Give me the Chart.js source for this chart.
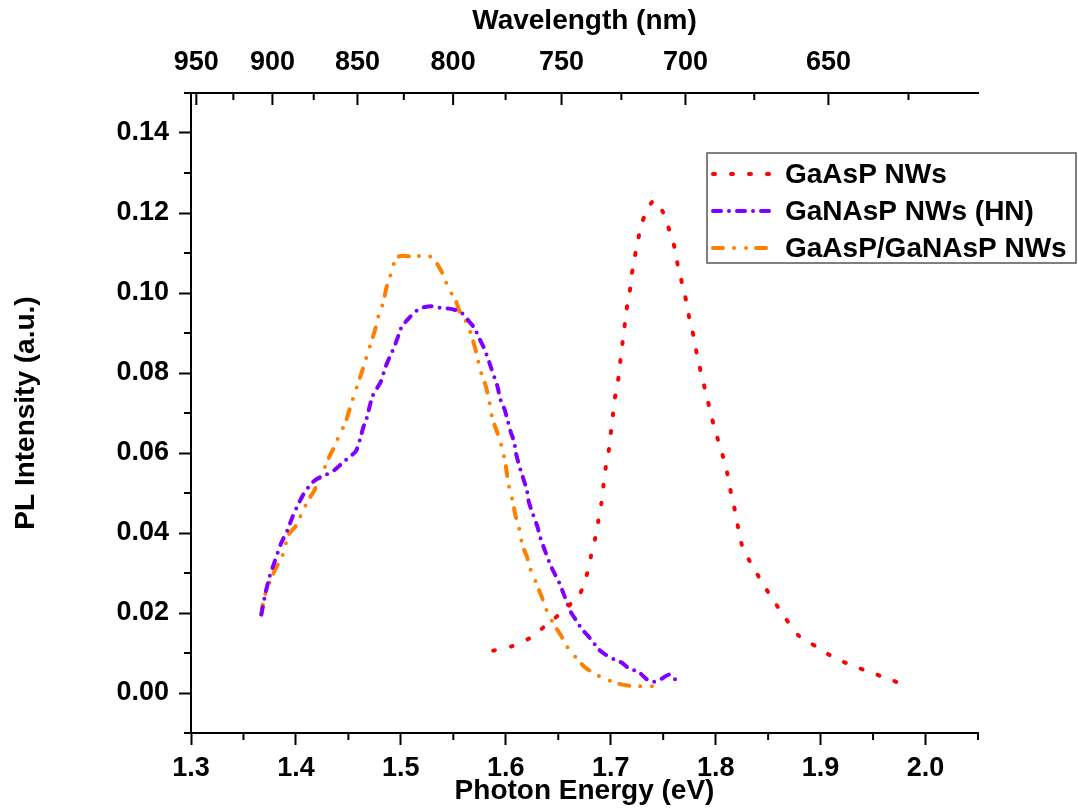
<!DOCTYPE html>
<html>
<head>
<meta charset="utf-8">
<script src="https://cdn.jsdelivr.net/npm/chart.js@4.4.0/dist/chart.umd.min.js"></script>
<style>
  html, body { margin: 0; padding: 0; background: #fff; }
  #wrap { width: 1078px; height: 809px; }
</style>
</head>
<body>
<div id="wrap"><canvas id="plChart"></canvas></div>
<script>
// hc constant for wavelength <-> photon energy (eV*nm)
const HC = 1239.84;

// GaAsP NWs
const gaaspEnergy = [1.588,1.606,1.622,1.640,1.657,1.671,1.677,1.681,1.685,1.688,1.691,1.693,1.695,1.698,1.702,1.704,1.707,1.709,1.711,1.713,1.715,1.718,1.720,1.723,1.726,1.730,1.738,1.742,1.750,1.756,1.761,1.764,1.768,1.772,1.775,1.779,1.782,1.786,1.790,1.794,1.798,1.803,1.808,1.812,1.815,1.819,1.822,1.826,1.835,1.845,1.856,1.867,1.880,1.896,1.913,1.930,1.946,1.964,1.982];
const gaaspPL = [0.0106,0.0117,0.0136,0.0173,0.0210,0.0250,0.0294,0.0340,0.0385,0.0428,0.0473,0.0517,0.0560,0.0604,0.0693,0.0738,0.0781,0.0826,0.0871,0.0913,0.0958,0.1001,0.1046,0.1091,0.1133,0.1178,0.1223,0.1232,0.1201,0.1156,0.1112,0.1068,0.1024,0.0979,0.0935,0.0892,0.0848,0.0801,0.0758,0.0714,0.0671,0.0626,0.0582,0.0538,0.0494,0.0449,0.0405,0.0361,0.0318,0.0273,0.0228,0.0185,0.0141,0.0116,0.0088,0.0069,0.0053,0.0036,0.0018];

// GaNAsP NWs (HN)
const ganaspEnergy = [1.367,1.371,1.375,1.379,1.386,1.392,1.397,1.401,1.407,1.415,1.422,1.429,1.437,1.446,1.457,1.461,1.464,1.467,1.473,1.481,1.485,1.489,1.494,1.498,1.501,1.508,1.513,1.520,1.529,1.537,1.546,1.556,1.561,1.565,1.570,1.575,1.580,1.586,1.592,1.595,1.599,1.602,1.605,1.608,1.610,1.614,1.620,1.622,1.626,1.630,1.633,1.637,1.643,1.647,1.651,1.656,1.662,1.667,1.673,1.678,1.683,1.689,1.695,1.704,1.711,1.718,1.726,1.734,1.741,1.748,1.756,1.764];
const ganaspPL = [0.0196,0.0250,0.0292,0.0323,0.0375,0.0408,0.0442,0.0465,0.0496,0.0525,0.0538,0.0546,0.0558,0.0579,0.0604,0.0633,0.0663,0.0683,0.0742,0.0779,0.0813,0.0838,0.0867,0.0896,0.0917,0.0938,0.0952,0.0963,0.0967,0.0963,0.0961,0.0954,0.0943,0.0929,0.0913,0.0885,0.0858,0.0813,0.0767,0.0733,0.0708,0.0679,0.0650,0.0628,0.0596,0.0558,0.0508,0.0477,0.0446,0.0417,0.0388,0.0358,0.0317,0.0296,0.0275,0.0242,0.0202,0.0182,0.0158,0.0144,0.0128,0.0108,0.0096,0.0083,0.0075,0.0060,0.0054,0.0035,0.0028,0.0035,0.0046,0.0027];

// GaAsP/GaNAsP NWs
const coreShellEnergy = [1.367,1.369,1.372,1.376,1.381,1.387,1.393,1.400,1.407,1.411,1.417,1.422,1.428,1.432,1.437,1.441,1.447,1.454,1.462,1.467,1.475,1.479,1.483,1.487,1.492,1.495,1.502,1.508,1.512,1.518,1.527,1.535,1.541,1.545,1.552,1.556,1.562,1.567,1.572,1.576,1.581,1.584,1.587,1.592,1.597,1.600,1.603,1.607,1.609,1.613,1.616,1.620,1.623,1.629,1.634,1.640,1.646,1.653,1.657,1.667,1.676,1.689,1.697,1.708,1.720,1.730,1.737,1.741];
const coreShellPL = [0.0196,0.0229,0.0258,0.0283,0.0313,0.0342,0.0396,0.0418,0.0458,0.0479,0.0504,0.0533,0.0567,0.0592,0.0617,0.0643,0.0675,0.0733,0.0796,0.0838,0.0904,0.0946,0.0975,0.1021,0.1058,0.1088,0.1093,0.1092,0.1098,0.1092,0.1093,0.1071,0.1042,0.1013,0.0983,0.0954,0.0929,0.0896,0.0850,0.0804,0.0767,0.0733,0.0688,0.0650,0.0608,0.0567,0.0517,0.0475,0.0446,0.0408,0.0367,0.0342,0.0313,0.0275,0.0242,0.0200,0.0171,0.0142,0.0121,0.0088,0.0063,0.0042,0.0033,0.0023,0.0017,0.0017,0.0019,0.0015];

// axis ticks
const plTicks = [0, 0.02, 0.04, 0.06, 0.08, 0.10, 0.12, 0.14];
const plMinor = [-0.01, 0.01, 0.03, 0.05, 0.07, 0.09, 0.11, 0.13];
const energyMinor = [1.35, 1.45, 1.55, 1.65, 1.75, 1.85, 1.95, 2.05];
const wavelengthTicks = [950, 900, 850, 800, 750, 700, 650];
const wavelengthMinor = [925, 875, 825, 775, 725, 675, 625];

const labels = ['GaAsP NWs', 'GaNAsP NWs (HN)', 'GaAsP/GaNAsP NWs'];

function toPoints(xs, ys) {
  return xs.map((x, i) => ({ x: x, y: ys[i] }));
}

Chart.defaults.font.family = '"Liberation Sans", Arial, sans-serif';
Chart.defaults.color = '#000';

const tickFont = { size: 27, weight: 'bold' };
const titleFont = { size: 28, weight: 'bold' };

// minor ticks, inward ticks on the wavelength axis, and the boxed legend
const extrasPlugin = {
  id: 'extras',
  afterDraw(chart) {
    const ctx = chart.ctx;
    const xs = chart.scales.x, ys = chart.scales.y, top = chart.scales.xTop;
    const area = chart.chartArea;
    ctx.save();
    ctx.strokeStyle = '#000';
    ctx.lineWidth = 2;
    ctx.beginPath();
    energyMinor.forEach(v => {
      const px = xs.getPixelForValue(v);
      ctx.moveTo(px, area.bottom); ctx.lineTo(px, area.bottom + 7);
    });
    plMinor.forEach(v => {
      const py = ys.getPixelForValue(v);
      ctx.moveTo(area.left, py); ctx.lineTo(area.left - 7, py);
    });
    wavelengthTicks.forEach(l => {
      const px = top.getPixelForValue(HC / l);
      ctx.moveTo(px, area.top); ctx.lineTo(px, area.top + 12);
    });
    wavelengthMinor.forEach(l => {
      const px = top.getPixelForValue(HC / l);
      ctx.moveTo(px, area.top); ctx.lineTo(px, area.top + 7);
    });
    // top axis line runs a little past the left axis, as in the original
    ctx.moveTo(area.left - 7, area.top); ctx.lineTo(area.left, area.top);
    ctx.stroke();

    // legend
    const bx = 707, by = 153, bw = 369, bh = 110;
    ctx.strokeStyle = '#555';
    ctx.lineWidth = 1.5;
    ctx.strokeRect(bx, by, bw, bh);
    ctx.font = 'bold 28px "Liberation Sans", Arial, sans-serif';
    ctx.textBaseline = 'middle';
    ctx.fillStyle = '#000';
    chart.data.datasets.forEach((ds, i) => {
      const cy = by + 21 + i * 37;
      ctx.save();
      ctx.strokeStyle = ds.borderColor;
      ctx.lineWidth = ds.borderWidth;
      ctx.lineCap = 'round';
      ctx.setLineDash(ds.borderDash);
      ctx.beginPath();
      ctx.moveTo(bx + 6, cy); ctx.lineTo(bx + 62, cy);
      ctx.stroke();
      ctx.restore();
      ctx.fillText(ds.label, bx + 78, cy + 1);
    });
    ctx.restore();
  }
};

const ctx = document.getElementById('plChart').getContext('2d');
new Chart(ctx, {
  type: 'scatter',
  data: {
    datasets: [
      {
        label: labels[0],
        data: toPoints(gaaspEnergy, gaaspPL),
        borderColor: '#FF0000',
        borderWidth: 4,
        borderDash: [2, 16],
        borderCapStyle: 'round'
      },
      {
        label: labels[1],
        data: toPoints(ganaspEnergy, ganaspPL),
        borderColor: '#8000FF',
        borderWidth: 4,
        borderDash: [8, 8, 0, 8],
        borderCapStyle: 'round'
      },
      {
        label: labels[2],
        data: toPoints(coreShellEnergy, coreShellPL),
        borderColor: '#FF8000',
        borderWidth: 4,
        borderDash: [10, 11, 0, 12, 0, 10],
        borderCapStyle: 'round'
      }
    ]
  },
  options: {
    responsive: true,
    maintainAspectRatio: false,
    animation: false,
    showLine: true,
    elements: { point: { radius: 0, hoverRadius: 0 }, line: { tension: 0.2 } },
    layout: { padding: { left: 0, right: 100, top: 0, bottom: 0 } },
    plugins: { legend: { display: false }, tooltip: { enabled: false } },
    scales: {
      x: {
        type: 'linear',
        position: 'bottom',
        min: 1.3,
        max: 2.05,
        ticks: {
          stepSize: 0.1,
          includeBounds: false,
          autoSkip: false,
          maxRotation: 0,
          font: tickFont,
          padding: 7,
          callback: v => v.toFixed(1)
        },
        grid: { drawOnChartArea: false, tickLength: 12, tickWidth: 2, color: '#000' },
        border: { color: '#000', width: 2 },
        title: { display: true, text: 'Photon Energy (eV)', font: titleFont, padding: 1 },
        afterFit: s => { s.height = 76; }
      },
      xTop: {
        type: 'linear',
        position: 'top',
        min: 1.3,
        max: 2.05,
        afterBuildTicks: s => { s.ticks = wavelengthTicks.map(l => ({ value: HC / l })); },
        ticks: {
          autoSkip: false,
          maxRotation: 0,
          font: tickFont,
          padding: 6,
          callback: v => Math.round(HC / v)
        },
        grid: { display: false },
        border: { display: true, color: '#000', width: 2 },
        title: { display: true, text: 'Wavelength (nm)', font: titleFont, padding: 4 },
        afterFit: s => { s.height = 93; }
      },
      y: {
        type: 'linear',
        position: 'left',
        min: -0.01,
        max: 0.15,
        afterBuildTicks: s => { s.ticks = plTicks.map(v => ({ value: v })); },
        ticks: {
          font: tickFont,
          padding: 10,
          callback: v => v.toFixed(2)
        },
        grid: { drawOnChartArea: false, tickLength: 12, tickWidth: 2, color: '#000' },
        border: { color: '#000', width: 2 },
        title: { display: true, text: 'PL Intensity (a.u.)', font: titleFont, padding: 9 },
        afterFit: s => { s.width = 191; }
      }
    }
  },
  plugins: [extrasPlugin]
});
</script>
</body>
</html>
